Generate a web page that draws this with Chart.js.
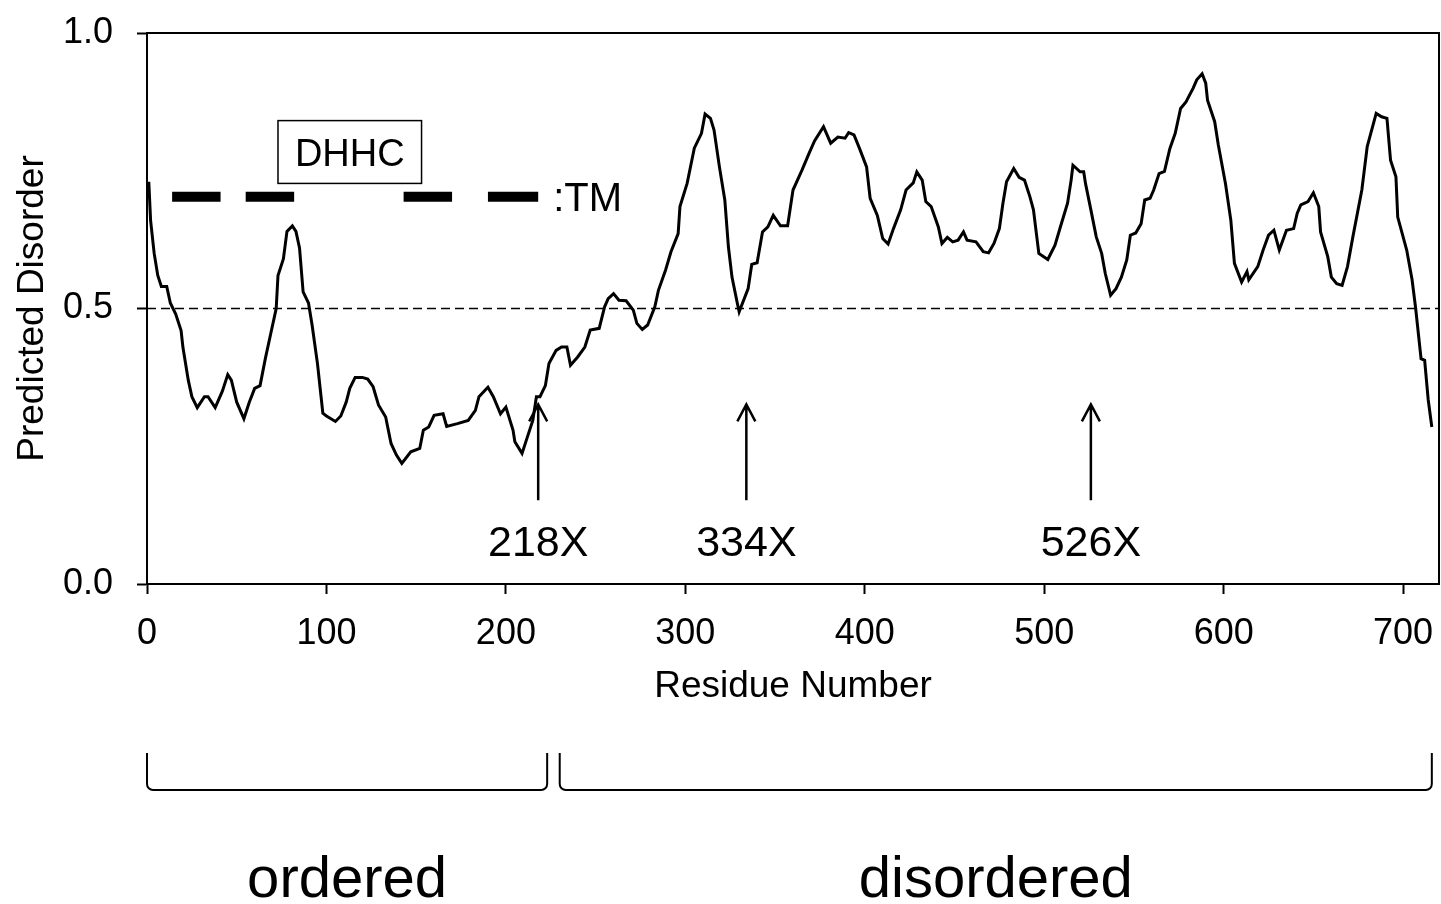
<!DOCTYPE html>
<html>
<head>
<meta charset="utf-8">
<title>Predicted Disorder</title>
<script src="https://cdn.jsdelivr.net/npm/chart.js@4.4.1/dist/chart.umd.min.js"></script>
<style>
  html, body { margin: 0; padding: 0; background: #fff; }
  canvas { display: block; }
</style>
</head>
<body>
<canvas id="disorderChart" width="1441" height="904"></canvas>
<script>
// disorder profile, residue number vs predicted disorder
const residues = [
  1, 2, 4, 6, 8, 11, 13, 16, 19, 20, 23, 25, 28, 32, 34, 38, 42, 45, 47, 50,
  54, 57, 60, 63, 66, 69, 72, 73, 76, 78, 81, 83, 85, 87, 90, 92, 95, 98, 100, 105,
  108, 111, 113, 116, 120, 123, 126, 129, 133, 136, 139, 142, 147, 152, 154, 157, 160, 165, 167, 173,
  179, 183, 185, 190, 193, 197, 200, 204, 205, 209, 212, 215, 217, 219, 222, 224, 228, 231, 234, 236,
  240, 244, 247, 252, 255, 257, 260, 263, 267, 271, 273, 276, 279, 283, 285, 289, 292, 296, 297, 301,
  305, 309, 311, 314, 316, 319, 322, 324, 326, 329, 330, 335, 337, 340, 343, 346, 349, 353, 357, 360,
  365, 369, 372, 377, 381, 385, 389, 391, 394, 397, 401, 403, 407, 410, 413, 416, 420, 423, 427, 429,
  432, 434, 437, 441, 443, 446, 449, 452, 455, 457, 462, 466, 469, 472, 475, 477, 479, 483, 486, 489,
  492, 494, 497, 502, 506, 509, 513, 515, 516, 520, 522, 523, 526, 529, 532, 534, 537, 540, 543, 546,
  548, 551, 554, 556, 559, 561, 564, 567, 570, 573, 576, 579, 583, 585, 588, 590, 591, 595, 597, 601,
  604, 606, 610, 613, 614, 619, 622, 625, 628, 631, 635, 639, 641, 643, 647, 650, 653, 654, 658, 660,
  663, 666, 669, 672, 677, 680, 685, 688, 691, 693, 696, 697, 702, 705, 707, 710, 712, 714, 716
];
const disorder = [
  0.73, 0.66, 0.60, 0.56, 0.54, 0.54, 0.51, 0.49, 0.46, 0.43, 0.37, 0.34, 0.32, 0.34, 0.34, 0.32, 0.35, 0.38, 0.37, 0.33,
  0.30, 0.33, 0.355, 0.36, 0.41, 0.455, 0.50, 0.56, 0.59, 0.64, 0.65, 0.64, 0.61, 0.53, 0.51, 0.47, 0.40, 0.31, 0.305, 0.295,
  0.305, 0.33, 0.355, 0.375, 0.375, 0.372, 0.358, 0.325, 0.303, 0.255, 0.234, 0.219, 0.24, 0.246, 0.279, 0.285, 0.306, 0.309, 0.286, 0.291,
  0.297, 0.315, 0.34, 0.357, 0.34, 0.309, 0.321, 0.279, 0.258, 0.237, 0.267, 0.297, 0.34, 0.34, 0.36, 0.40, 0.424, 0.43, 0.43, 0.397,
  0.412, 0.43, 0.461, 0.464, 0.503, 0.518, 0.527, 0.515, 0.514, 0.497, 0.473, 0.462, 0.47, 0.503, 0.533, 0.57, 0.603, 0.636, 0.685, 0.727,
  0.791, 0.818, 0.853, 0.845, 0.824, 0.757, 0.697, 0.612, 0.557, 0.509, 0.494, 0.536, 0.58, 0.583, 0.639, 0.648, 0.669, 0.65, 0.65, 0.715,
  0.751, 0.782, 0.804, 0.83, 0.80, 0.811, 0.809, 0.819, 0.815, 0.791, 0.757, 0.70, 0.669, 0.627, 0.617, 0.645, 0.679, 0.715, 0.728, 0.748,
  0.733, 0.694, 0.685, 0.648, 0.618, 0.629, 0.621, 0.624, 0.639, 0.624, 0.621, 0.603, 0.601, 0.618, 0.645, 0.691, 0.73, 0.754, 0.738, 0.733,
  0.703, 0.679, 0.60, 0.589, 0.615, 0.648, 0.691, 0.733, 0.76, 0.748, 0.748, 0.727, 0.679, 0.63, 0.60, 0.564, 0.524, 0.536, 0.557, 0.588,
  0.633, 0.637, 0.654, 0.697, 0.70, 0.715, 0.745, 0.749, 0.79, 0.818, 0.863, 0.875, 0.90, 0.915, 0.926, 0.909, 0.878, 0.839, 0.797, 0.727,
  0.66, 0.582, 0.548, 0.567, 0.552, 0.576, 0.606, 0.633, 0.642, 0.606, 0.642, 0.645, 0.673, 0.688, 0.694, 0.71, 0.685, 0.639, 0.594, 0.557,
  0.545, 0.542, 0.576, 0.63, 0.715, 0.794, 0.854, 0.848, 0.845, 0.769, 0.739, 0.666, 0.606, 0.552, 0.50, 0.409, 0.406, 0.334, 0.285
];

// transmembrane segments and the DHHC domain (residue ranges)
const tmStart = [14, 55, 143, 190];
const tmEnd = [41, 82, 170, 218];
const tmLevel = 0.703;
const dhhcStart = 73;
const dhhcEnd = 153;

// truncation mutants
const truncations = [218, 334, 526];

// ordered / disordered halves
const regionNames = ['ordered', 'disordered'];
const regionStart = [0, 230];
const regionEnd = [223, 716];

const cutoff = 0.5;
const xMax = 720;
const xStep = 100;
const yStep = 0.5;

const FONT = '"Liberation Sans", Arial, sans-serif';
Chart.defaults.font.family = FONT;
Chart.defaults.color = '#000';

const curve = residues.map((r, i) => ({ x: r, y: disorder[i] }));
const tmPoints = [];
tmStart.forEach((s, i) => {
  tmPoints.push({ x: s, y: tmLevel }, { x: tmEnd[i], y: tmLevel }, { x: tmEnd[i], y: null });
});

// no extra room for edge tick labels, the plot box is fixed by layout padding
const noEdgePadding = s => {
  s.paddingLeft = 0;
  s.paddingRight = 0;
  s.paddingTop = 0;
  s.paddingBottom = 0;
};

const extras = {
  id: 'extras',
  beforeDatasetsDraw(chart) {
    const { ctx, chartArea: a, scales: { y } } = chart;
    ctx.save();
    // top and right edges of the frame
    ctx.strokeStyle = '#000';
    ctx.lineWidth = 2;
    ctx.beginPath();
    ctx.moveTo(a.left, a.top);
    ctx.lineTo(a.right, a.top);
    ctx.lineTo(a.right, a.bottom);
    ctx.stroke();
    // 0.5 cutoff
    const yc = y.getPixelForValue(cutoff);
    ctx.lineWidth = 1.5;
    ctx.setLineDash([9, 5]);
    ctx.beginPath();
    ctx.moveTo(a.left, yc);
    ctx.lineTo(a.right, yc);
    ctx.stroke();
    ctx.restore();
  },
  afterDraw(chart) {
    const { ctx, chartArea: a, scales: { x, y } } = chart;
    ctx.save();
    ctx.strokeStyle = '#000';
    ctx.fillStyle = '#000';

    // DHHC box
    const bl = x.getPixelForValue(dhhcStart), br = x.getPixelForValue(dhhcEnd);
    const bt = y.getPixelForValue(0.841), bb = y.getPixelForValue(0.727);
    ctx.fillStyle = '#fff';
    ctx.fillRect(bl, bt, br - bl, bb - bt);
    ctx.fillStyle = '#000';
    ctx.lineWidth = 1.5;
    ctx.strokeRect(bl, bt, br - bl, bb - bt);
    ctx.font = '38px ' + FONT;
    ctx.textAlign = 'center';
    ctx.textBaseline = 'alphabetic';
    ctx.fillText('DHHC', (bl + br) / 2, (bt + bb) / 2 + 14);

    // TM legend text
    const ty = y.getPixelForValue(tmLevel);
    ctx.font = '40px ' + FONT;
    ctx.textAlign = 'left';
    ctx.fillText(':TM', x.getPixelForValue(tmEnd[tmEnd.length - 1]) + 15, ty + 14);

    // truncation arrows
    truncations.forEach(t => {
      const px = x.getPixelForValue(t);
      const tip = y.getPixelForValue(0.326), tail = y.getPixelForValue(0.152);
      ctx.lineWidth = 2.5;
      ctx.beginPath();
      ctx.moveTo(px, tail);
      ctx.lineTo(px, tip + 1);
      ctx.moveTo(px - 9, tip + 17);
      ctx.lineTo(px, tip);
      ctx.lineTo(px + 9, tip + 17);
      ctx.stroke();
      ctx.font = '43px ' + FONT;
      ctx.textAlign = 'center';
      ctx.fillText(t + 'X', px, tail + 56);
    });

    // region brackets
    regionNames.forEach((name, i) => {
      const l = x.getPixelForValue(regionStart[i]), r = x.getPixelForValue(regionEnd[i]);
      const top = a.bottom + 169, bot = a.bottom + 206, rad = 6;
      ctx.lineWidth = 2;
      ctx.beginPath();
      ctx.moveTo(l, top);
      ctx.arcTo(l, bot, l + rad, bot, rad);
      ctx.arcTo(r, bot, r, bot - rad, rad);
      ctx.lineTo(r, top);
      ctx.stroke();
      ctx.font = '58px ' + FONT;
      ctx.textAlign = 'center';
      ctx.fillText(name, (l + r) / 2, a.bottom + 313);
    });
    ctx.restore();
  }
};

new Chart(document.getElementById('disorderChart').getContext('2d'), {
  type: 'line',
  data: {
    datasets: [
      {
        label: 'Predicted Disorder',
        data: curve,
        borderColor: '#000',
        borderWidth: 3,
        pointRadius: 0,
        tension: 0,
        fill: false
      },
      {
        label: 'TM',
        data: tmPoints,
        borderColor: '#000',
        borderWidth: 10,
        borderCapStyle: 'butt',
        pointRadius: 0,
        spanGaps: false,
        fill: false
      }
    ]
  },
  options: {
    responsive: false,
    animation: false,
    events: [],
    layout: { padding: { left: 0, top: 33, right: 2, bottom: 195 } },
    plugins: {
      legend: { display: false },
      tooltip: { enabled: false }
    },
    scales: {
      x: {
        type: 'linear',
        min: 0,
        max: xMax,
        afterFit: s => { s.height = 125; noEdgePadding(s); },
        grid: { drawOnChartArea: false, drawTicks: true, tickLength: 10, tickColor: '#000', tickWidth: 2 },
        border: { display: true, color: '#000', width: 2 },
        ticks: { stepSize: xStep, includeBounds: false, autoSkip: false, maxRotation: 0, padding: 18, font: { size: 36 }, color: '#000' },
        title: { display: true, text: 'Residue Number', font: { size: 37 }, color: '#000', padding: { top: 0, bottom: 0 } }
      },
      y: {
        min: 0,
        max: 1,
        afterFit: s => { s.width = 147; noEdgePadding(s); },
        grid: { drawOnChartArea: false, drawTicks: true, tickLength: 10, tickColor: '#000', tickWidth: 2 },
        border: { display: true, color: '#000', width: 2 },
        ticks: { stepSize: yStep, callback: v => v.toFixed(1), padding: 24, font: { size: 36 }, color: '#000' },
        title: { display: true, text: 'Predicted Disorder', font: { size: 37 }, color: '#000', padding: { top: 11, bottom: 0 } }
      }
    }
  },
  plugins: [extras]
});
</script>
</body>
</html>
